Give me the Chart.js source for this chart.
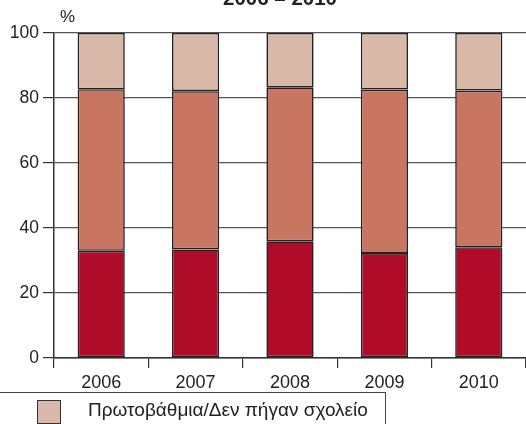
<!DOCTYPE html>
<html>
<head>
<meta charset="utf-8">
<script src="https://cdn.jsdelivr.net/npm/chart.js@4/dist/chart.umd.min.js"></script>
<style>
  html, body { margin: 0; padding: 0; background: #fff; }
  #wrap { position: relative; width: 526px; height: 424px; overflow: hidden; font-family: "Liberation Sans", Arial, sans-serif; color: #222; }
  #c { position: absolute; left: 0; top: 0; }
  #title { position: absolute; left: 0; width: 560px; text-align: center; top: -14px; font-weight: bold; font-size: 20.5px; }
  #pct { position: absolute; left: 60px; top: 7px; font-size: 17px; }
  #legend { position: absolute; left: -2px; top: 392px; width: 387px; height: 40px; border-top: 1.5px solid #444; border-right: 1.5px solid #444; }
  #legend .sw { position: absolute; left: 39px; top: 7px; width: 22px; height: 22px; background: #D9B8A9; border: 1px solid #333; }
  #legend .tx { position: absolute; left: 90px; top: 6px; font-size: 19px; white-space: nowrap; }
</style>
</head>
<body>
<div id="wrap">
  <canvas id="c" width="526" height="424"></canvas>
  <div id="title">2006 – 2010</div>
  <div id="pct">%</div>
  <div id="legend"><div class="sw"></div><div class="tx">Πρωτοβάθμια/Δεν πήγαν σχολείο</div></div>
</div>
<script>
const years = ["2006", "2007", "2008", "2009", "2010"];
const tertiary = [33.0, 33.4, 35.9, 32.3, 34.1];
const secondary = [49.7, 48.7, 47.4, 50.3, 48.2];
const primary = [17.3, 17.9, 16.7, 17.4, 17.7];
const yTicks = [0, 20, 40, 60, 80, 100];

const border = '#222';
const common = { borderColor: border, borderWidth: 1.6, borderSkipped: false };
new Chart(document.getElementById('c'), {
  type: 'bar',
  data: {
    labels: years,
    datasets: [
      Object.assign({ label: 'Τριτοβάθμια', data: tertiary, backgroundColor: '#AF0C29' }, common),
      Object.assign({ label: 'Δευτεροβάθμια', data: secondary, backgroundColor: '#C87562' }, common),
      Object.assign({ label: 'Πρωτοβάθμια/Δεν πήγαν σχολείο', data: primary, backgroundColor: '#D9B8A9' }, common)
    ]
  },
  options: {
    responsive: false,
    animation: false,
    layout: { padding: { top: 33, left: 0, right: 0, bottom: 0 } },
    plugins: { legend: { display: false }, title: { display: false }, tooltip: { enabled: false } },
    datasets: { bar: { categoryPercentage: 1.0, barPercentage: 0.5 } },
    scales: {
      x: {
        stacked: true,
        offset: true,
        grid: { offset: true, drawOnChartArea: false, drawTicks: true, tickLength: 10, color: '#333', tickColor: '#333', lineWidth: 1.2 },
        border: { display: true, color: '#333', width: 1.5 },
        ticks: { color: '#222', font: { family: '"Liberation Sans", Arial, sans-serif', size: 18 }, padding: 4, maxRotation: 0 },
        afterFit: (s) => { s.height = 66; }
      },
      y: {
        stacked: true,
        min: 0, max: 100,
        afterBuildTicks: (s) => { s.ticks = yTicks.map(v => ({ value: v })); },
        grid: { color: '#555', tickColor: '#333', lineWidth: 1.2, tickLength: 11 },
        border: { display: true, color: '#333', width: 1.5 },
        ticks: { color: '#222', font: { family: '"Liberation Sans", Arial, sans-serif', size: 17.5 }, padding: 4 },
        afterFit: (s) => { s.width = 54; }
      }
    }
  }
});
</script>
</body>
</html>
